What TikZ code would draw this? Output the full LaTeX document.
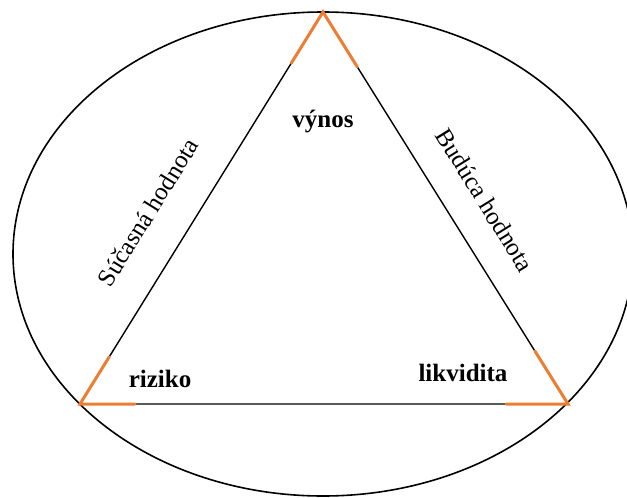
\documentclass[tikz,border=0pt]{standalone}
\usepackage{fontspec}
\setmainfont{Liberation Serif}
\usetikzlibrary{calc,shapes.geometric}
\definecolor{accent}{HTML}{ED7D31}
\tikzset{
  edge/.style={line width=1.4pt, black},
  hilite/.style={line width=3pt, accent, line cap=round},
  cornerlabel/.style={font=\fontsize{25}{29}\selectfont\bfseries, anchor=base, inner sep=0pt},
  sidelabel/.style={font=\fontsize{25}{29}\selectfont, inner sep=0pt}
}
\begin{document}
\begin{tikzpicture}[x=1pt,y=-1pt]
\useasboundingbox (0,0) rectangle (627,498);
\clip (0,0) rectangle (627,498);
\node[draw, line width=1.6pt, ellipse, minimum width=620pt, minimum height=484pt, inner sep=0pt] (oval) at (323,254) {};
\coordinate (A) at (323,12);
\coordinate (B) at (80,404);
\coordinate (C) at (568,404);
\draw[edge] (A) -- (B) -- (C) -- cycle;
\draw[hilite] ($(A)!0.13!(B)$) -- (A) -- ($(A)!0.14!(C)$);
\draw[hilite] ($(B)!0.12!(A)$) -- (B) -- ($(B)!0.113!(C)$);
\draw[hilite] ($(C)!0.127!(B)$) -- (C) -- ($(C)!0.135!(A)$);
\node[cornerlabel] (vynos) at (323,127) {výnos};
\node[cornerlabel] (riziko) at (160,387) {riziko};
\node[cornerlabel] (likv) at (463,381) {likvidita};
\node[sidelabel, rotate=58.2] (sucasna) at (148,212) {Súčasná hodnota};
\node[sidelabel, rotate=-58.2] (buduca) at (485,200) {Budúca hodnota};
\end{tikzpicture}
\end{document}
